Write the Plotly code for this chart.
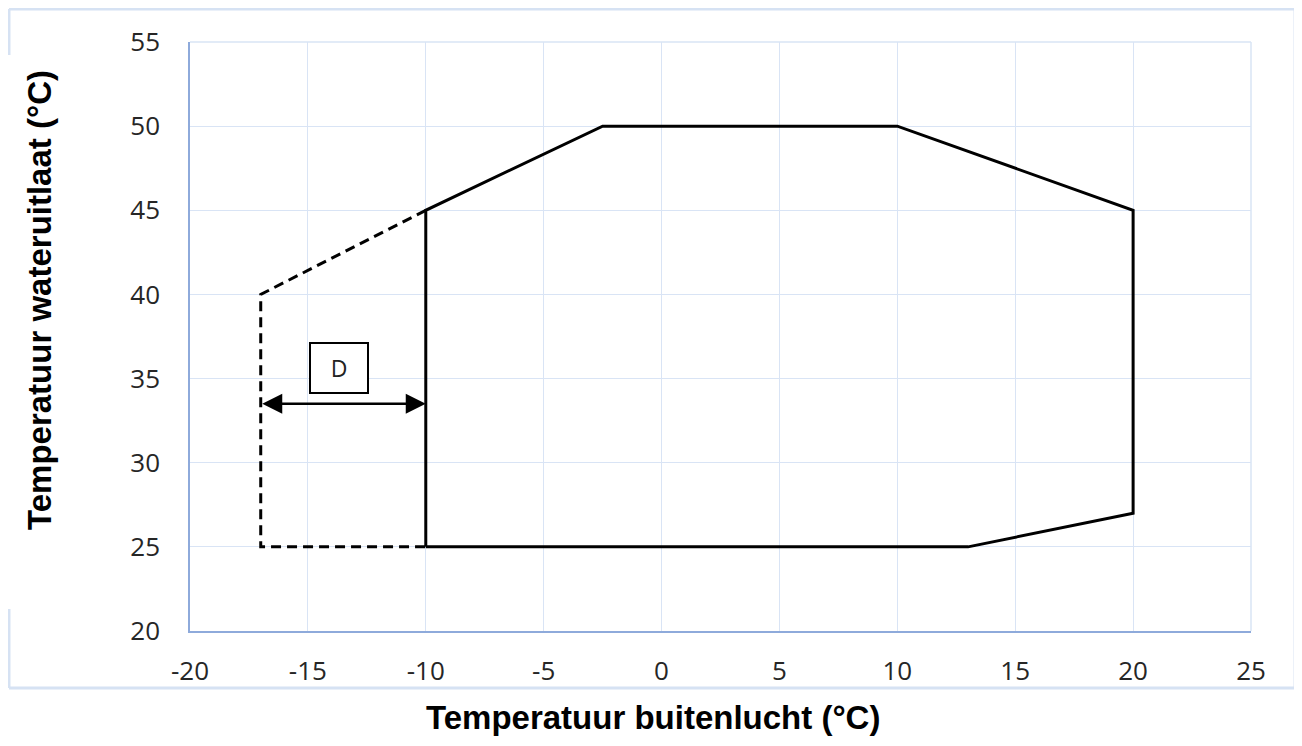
import plotly.graph_objects as go

# Data
solid_x = [-10, -10, -2.5, 10, 20, 20, 13, -10]
solid_y = [25, 45, 50, 50, 45, 27, 25, 25]
dash_x = [-10, -17, -17, -10]
dash_y = [45, 40, 25, 25]
arrow_x = [-17, -10]
arrow_y = 33.5
label_text = "D"
label_x = -13.7
label_y = 35.6
x_ticks = [-20, -15, -10, -5, 0, 5, 10, 15, 20, 25]
y_ticks = [20, 25, 30, 35, 40, 45, 50, 55]
x_title = "Temperatuur buitenlucht (°C)"
y_title = "Temperatuur wateruitlaat (°C)"

fig = go.Figure()
fig.add_trace(go.Scatter(x=dash_x, y=dash_y, mode="lines",
                         line=dict(color="black", width=3, dash="10px,6px"),
                         hoverinfo="skip", showlegend=False))
fig.add_trace(go.Scatter(x=solid_x, y=solid_y, mode="lines",
                         line=dict(color="black", width=3),
                         hoverinfo="skip", showlegend=False))

# double-headed arrow
fig.add_annotation(x=arrow_x[1], y=arrow_y, ax=arrow_x[0], ay=arrow_y,
                   xref="x", yref="y", axref="x", ayref="y",
                   text="", showarrow=True, arrowhead=2, startarrowhead=2,
                   arrowside="end+start", arrowwidth=2.5, arrowsize=1.6,
                   startarrowsize=1.6, arrowcolor="black")
fig.add_annotation(x=label_x, y=label_y, xref="x", yref="y", text=label_text,
                   showarrow=False, font=dict(family="Open Sans", size=23, color="#222"),
                   bordercolor="black", borderwidth=2, bgcolor="white",
                   width=54, height=46)

# axis titles
title_font = dict(family="Liberation Sans, Arial", size=33, color="black")
fig.add_annotation(x=(653 - 190) / 1061, y=(631 - 717) / 589, xref="paper", yref="paper",
                   text="<b>" + x_title + "</b>", showarrow=False, font=title_font,
                   xanchor="center", yanchor="middle")
fig.add_annotation(x=(39 - 190) / 1061, y=(631 - 300) / 589, xref="paper", yref="paper",
                   text="<b>" + y_title + "</b>", showarrow=False, font=title_font,
                   textangle=-90, xanchor="center", yanchor="middle")

# outer border (with gap at left side for the axis title)
bc = "#d6e2f3"
L, R, T, B = -0.1706, 1.0415, 1.056, -0.0968
gap_top = (631 - 55) / 589
gap_bot = (631 - 609) / 589
for (x0, y0, x1, y1) in [(L, T, R, T), (R, T, R, B), (R, B, L, B), (L, B, L, gap_bot), (L, gap_top, L, T)]:
    fig.add_shape(type="line", xref="paper", yref="paper", x0=x0, y0=y0, x1=x1, y1=y1,
                  line=dict(color=bc, width=3), layer="below")

fig.update_layout(
    width=1294, height=738,
    margin=dict(l=182, r=51, t=34, b=115),
    plot_bgcolor="white", paper_bgcolor="white",
    showlegend=False,
    font=dict(family="Open Sans", size=27, color="#262626"),
)
tick_font = dict(family="Open Sans", size=26, color="#262626")
fig.update_xaxes(range=[-20, 25], tickvals=x_ticks, ticktext=[str(v) for v in x_ticks],
                 showgrid=True, gridcolor="#d9e4f5", gridwidth=1,
                 showline=True, linecolor="#8eaadb", linewidth=1.5,
                 zeroline=False, ticks="outside", ticklen=16, tickcolor="rgba(0,0,0,0)",
                 tickfont=tick_font)
fig.update_yaxes(range=[20, 55], tickvals=y_ticks, ticktext=[str(v) for v in y_ticks],
                 showgrid=True, gridcolor="#d9e4f5", gridwidth=1,
                 showline=True, linecolor="#8eaadb", linewidth=1.5,
                 zeroline=False, ticks="outside", ticklen=23, tickcolor="rgba(0,0,0,0)",
                 tickfont=tick_font)
fig.add_shape(type="line", xref="paper", yref="paper", x0=1, y0=0, x1=1, y1=1,
              line=dict(color="#d9e4f5", width=1.5), layer="below")
fig.add_shape(type="line", xref="paper", yref="paper", x0=0, y0=1, x1=1, y1=1,
              line=dict(color="#d9e4f5", width=1.5), layer="below")

fig.write_html("out.html")
